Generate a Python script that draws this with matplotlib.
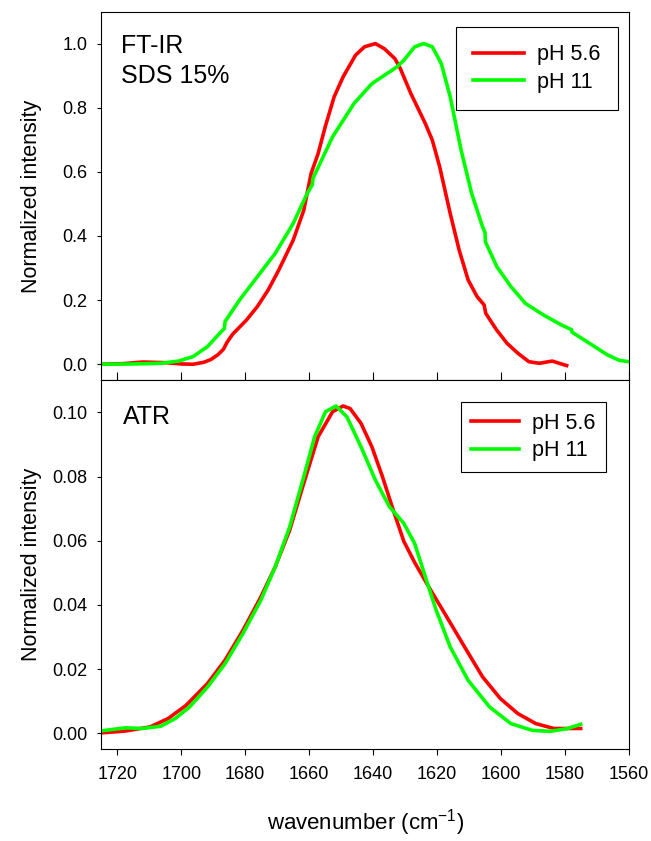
import numpy as np
import matplotlib
matplotlib.use("Agg")
import matplotlib.pyplot as plt

plt.rcParams['font.family'] = ['Liberation Sans', 'DejaVu Sans']
plt.rcParams['mathtext.default'] = 'regular'

# FT-IR, SDS 15%
ftir_w_56 = [1725.4, 1718, 1712, 1705, 1700, 1696.3, 1693, 1690.7, 1688.5, 1686.8, 1685.7, 1684,
             1679.6, 1676.2, 1672.8, 1669.5, 1665, 1661.7, 1659.4, 1657.2, 1655, 1652.2, 1649.4,
             1645.5, 1642.7, 1639.3, 1636.5, 1633.2, 1631.5, 1628.2, 1623.7, 1621.5, 1619.2,
             1615.9, 1613.1, 1610.3, 1607.5, 1605.3, 1604.8, 1601.4, 1598.1, 1594.7, 1591.3,
             1588, 1584, 1581.5, 1579.5]
ftir_i_56 = [0.0, 0.002, 0.007, 0.005, 0.001, 0.0, 0.006, 0.015, 0.03, 0.047, 0.068, 0.093,
             0.138, 0.18, 0.232, 0.294, 0.387, 0.48, 0.595, 0.657, 0.74, 0.834, 0.896,
             0.964, 0.99, 1.0, 0.984, 0.953, 0.922, 0.844, 0.751, 0.699, 0.616,
             0.47, 0.356, 0.263, 0.211, 0.185, 0.159, 0.107, 0.065, 0.034, 0.008,
             0.003, 0.010, 0.002, -0.004]

ftir_w_11 = [1725.4, 1715, 1706.4, 1700.8, 1696.3, 1691.8, 1688.5, 1686.5, 1686.3, 1681.8, 1676.2,
             1670.6, 1665, 1660.6, 1659, 1658.8, 1652.7, 1646, 1640.4, 1632.6, 1630.4, 1627,
             1624.2, 1621.5, 1618.7, 1615.9, 1612.5, 1609.2, 1605.8, 1605, 1604.9, 1601.3,
             1596.9, 1592.4, 1586.8, 1581.2, 1578, 1577.8, 1572.3, 1566.7, 1563, 1560]
ftir_i_11 = [0.0, 0.001, 0.003, 0.01, 0.024, 0.055, 0.091, 0.112, 0.133, 0.2, 0.273,
             0.346, 0.439, 0.533, 0.56, 0.58, 0.709, 0.813, 0.875, 0.927, 0.948, 0.99,
             1.0, 0.99, 0.938, 0.834, 0.668, 0.533, 0.429, 0.41, 0.382, 0.304,
             0.242, 0.19, 0.154, 0.123, 0.108, 0.1, 0.065, 0.029, 0.012, 0.008]

# ATR
atr_w_56 = [1725.4, 1717.5, 1709.7, 1704.1, 1698.5, 1691.8, 1686.3, 1680.7, 1675.1, 1670.6,
            1666.1, 1661.7, 1657.2, 1652.7, 1649.4, 1647.2, 1643.8, 1640.4, 1637.1, 1633.7,
            1630.4, 1627, 1622.6, 1617, 1611.4, 1605.8, 1600.2, 1594.7, 1589.1, 1583.5, 1575.1]
atr_i_56 = [0.0001, 0.0007, 0.002, 0.0046, 0.0087, 0.0155, 0.0228, 0.0321, 0.0425, 0.0519,
            0.0633, 0.0779, 0.0924, 0.1002, 0.102, 0.1012, 0.0966, 0.0893, 0.08, 0.0695,
            0.0598, 0.0532, 0.0456, 0.0363, 0.0269, 0.0176, 0.0108, 0.0061, 0.003, 0.0015, 0.0015]

atr_w_11 = [1725.4, 1717.5, 1712, 1706.4, 1701.9, 1697.4, 1691.8, 1686.3, 1680.7, 1675.1,
            1670.6, 1666.1, 1661.7, 1658.3, 1654.9, 1651.6, 1648.2, 1643.8, 1639.3, 1634.9,
            1630.4, 1627, 1623.7, 1620.3, 1615.9, 1610.3, 1603.6, 1596.9, 1590.2, 1584.6,
            1579.1, 1575.1]
atr_i_11 = [0.0007, 0.0017, 0.0015, 0.0022, 0.0046, 0.0082, 0.0144, 0.0217, 0.0311, 0.0415,
            0.0519, 0.0643, 0.0799, 0.0924, 0.1002, 0.102, 0.0986, 0.0893, 0.0789, 0.0706,
            0.0654, 0.0591, 0.0488, 0.0384, 0.0269, 0.0165, 0.0082, 0.003, 0.0009, 0.0006,
            0.0015, 0.0028]

labels = ['pH 5.6', 'pH 11']
colors = ['#ff0000', '#00ff00']
xticks = np.arange(1720, 1559, -20)

fig = plt.figure(figsize=(6.51, 8.41), dpi=100)
L, R = 0.1556, 0.9662
ax1 = fig.add_axes([L, 0.5478, R - L, 0.9863 - 0.5478])
ax2 = fig.add_axes([L, 0.1090, R - L, 0.5478 - 0.1090])

lw = 2.6
ax1.plot(ftir_w_56, ftir_i_56, color=colors[0], lw=lw, label=labels[0], solid_joinstyle='round')
ax1.plot(ftir_w_11, ftir_i_11, color=colors[1], lw=lw, label=labels[1], solid_joinstyle='round')
ax2.plot(atr_w_56, atr_i_56, color=colors[0], lw=lw, label=labels[0], solid_joinstyle='round')
ax2.plot(atr_w_11, atr_i_11, color=colors[1], lw=lw, label=labels[1], solid_joinstyle='round')

for ax in (ax1, ax2):
    ax.set_xlim(1725, 1560)
    ax.set_xticks(xticks)
    for s in ax.spines.values():
        s.set_linewidth(0.8)
    ax.tick_params(axis='y', direction='out', length=3, width=0.8, pad=7, labelsize=13)
    ax.set_ylabel('Normalized intensity', fontsize=15.5)
    ax.yaxis.set_label_coords(-0.112, 0.5)

ax1.set_ylim(-0.05, 1.1)
ax1.set_yticks(np.arange(0, 1.01, 0.2))
ax1.set_yticklabels(['%.1f' % v for v in np.arange(0, 1.01, 0.2)])
ax1.tick_params(axis='x', direction='in', length=6, width=0.8, labelbottom=False)

ax2.set_ylim(-0.005, 0.11)
ax2.set_yticks(np.arange(0, 0.101, 0.02))
ax2.set_yticklabels(['%.2f' % v for v in np.arange(0, 0.101, 0.02)])
ax2.tick_params(axis='x', direction='out', length=4, width=0.8, pad=8, labelsize=13)

ax1.text(0.038, 0.938, 'FT-IR\nSDS 15%', transform=ax1.transAxes, fontsize=18,
         va='top', ha='left', linespacing=1.3)
ax2.text(0.041, 0.933, 'ATR', transform=ax2.transAxes, fontsize=18, va='top', ha='left')

leg_kw = dict(fontsize=15.5, loc='upper right', fancybox=False, frameon=True, framealpha=1,
              edgecolor='black', handletextpad=0.6, labelspacing=0.3, borderaxespad=0)
lg1 = ax1.legend(bbox_to_anchor=(0.979, 0.958), handlelength=2.4, borderpad=0.8, **leg_kw)
lg2 = ax2.legend(bbox_to_anchor=(0.956, 0.941), handlelength=2.2, borderpad=0.5, **leg_kw)
for lg in (lg1, lg2):
    lg.get_frame().set_linewidth(0.8)

fig.text((L + R) / 2, 0.022, 'wavenumber (cm$^{-1}$)', fontsize=16, ha='center', va='center')

fig.savefig('out.png', dpi=100)
